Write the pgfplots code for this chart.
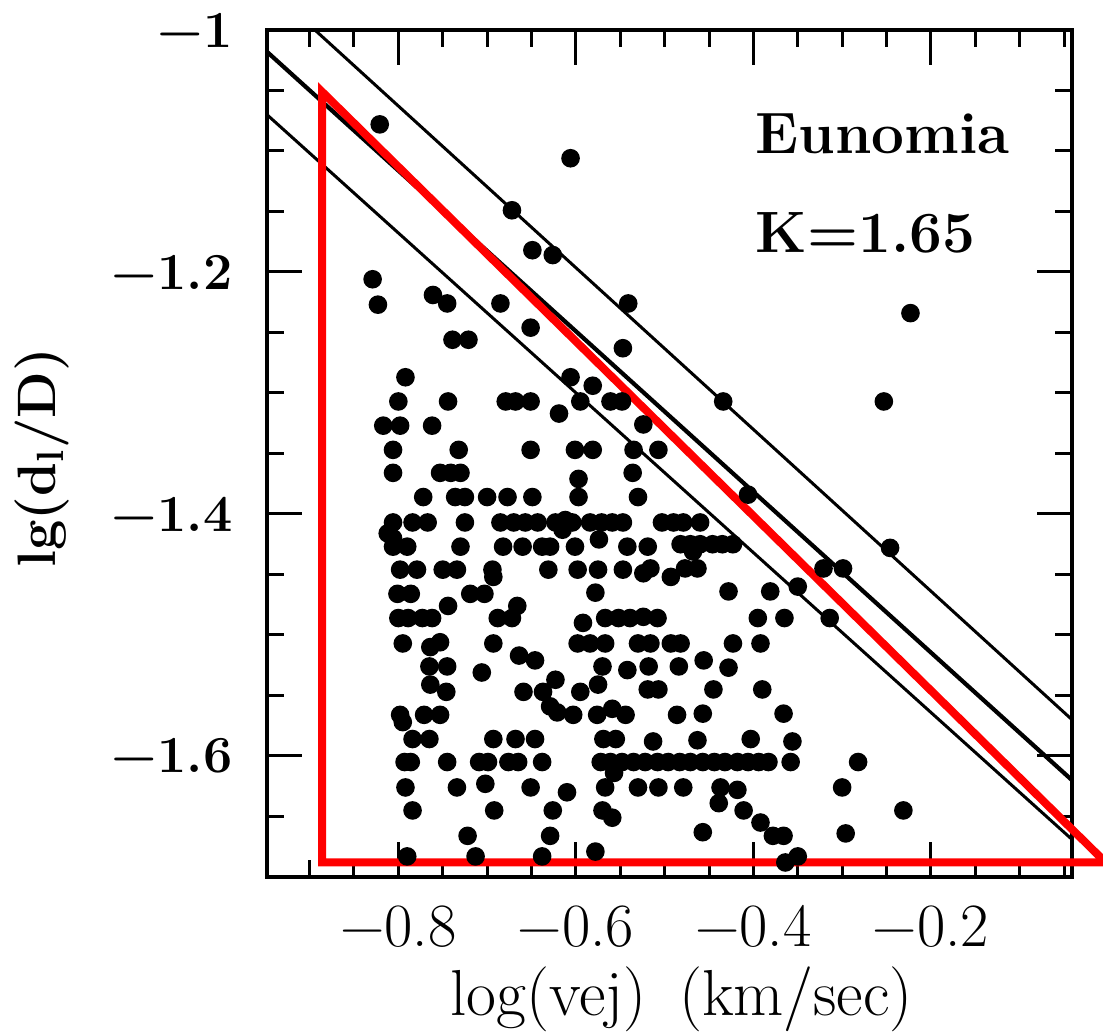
\documentclass[border=0pt]{standalone}
\usepackage{pgfplots}
\pgfplotsset{compat=1.18}
\begin{document}
\begin{tikzpicture}
\begin{axis}[name=ax, scale only axis, width=80.5mm, height=84.7mm,
 xmin=-0.948, xmax=-0.041, ymin=-1.7, ymax=-1,
 clip=false,
 axis line style={line width=0.45mm},
 tick align=inside,
 major tick length=3.5mm, minor tick length=1.7mm,
 tick style={black, line width=0.3mm},
 xtick={-0.8,-0.6,-0.4,-0.2},
 xticklabels={\textminus0.8,\textminus0.6,\textminus0.4,\textminus0.2},
 minor xtick={-0.9,-0.85,-0.75,-0.7,-0.65,-0.55,-0.5,-0.45,-0.35,-0.3,-0.25,-0.15,-0.1,-0.05},
 ytick={-1,-1.2,-1.4,-1.6},
 yticklabels={\textminus1,\textminus1.2,\textminus1.4,\textminus1.6},
 minor ytick={-1.05,-1.1,-1.15,-1.25,-1.3,-1.35,-1.45,-1.5,-1.55,-1.65},
 xticklabel style={font=\fontsize{17.5}{20}\selectfont, anchor=base, yshift=-7mm, inner sep=0pt},
 yticklabel style={font=\fontsize{14.8}{17}\selectfont\bfseries, anchor=east, xshift=-3.4mm, inner sep=0pt},
 xlabel={log(vej)\hspace{0.5em}(km/sec)},
 xlabel style={font=\fontsize{18.5}{21}\selectfont, at={(axis description cs:0.515,-0.163)}, anchor=base, inner sep=0pt},
 ylabel={lg(d\textsubscript{l}/D)},
 ylabel style={font=\fontsize{15.4}{18}\selectfont\bfseries, at={(axis description cs:-0.28,0.495)}, anchor=center, inner sep=0pt},
]
% family lines
\addplot[black, line width=0.3mm] coordinates {(-0.894,-1.000) (-0.041,-1.570)};
\addplot[black, line width=0.42mm] coordinates {(-0.948,-1.018) (-0.041,-1.620)};
\addplot[black, line width=0.3mm] coordinates {(-0.948,-1.070) (-0.041,-1.669)};
% asteroids
\addplot[only marks, mark=*, mark size=0.86mm, black] coordinates {
(-0.821,-1.078) (-0.606,-1.106) (-0.672,-1.149) (-0.649,-1.182) (-0.626,-1.186)
(-0.829,-1.206) (-0.823,-1.227) (-0.761,-1.219) (-0.745,-1.226) (-0.685,-1.226)
(-0.541,-1.226) (-0.223,-1.234) (-0.651,-1.246) (-0.739,-1.256) (-0.721,-1.256)
(-0.547,-1.263) (-0.792,-1.287) (-0.606,-1.287) (-0.581,-1.294) (-0.434,-1.307) (-0.253,-1.307)
(-0.800,-1.307) (-0.744,-1.307) (-0.679,-1.307) (-0.668,-1.307) (-0.651,-1.307)
(-0.595,-1.307) (-0.561,-1.307) (-0.548,-1.307) (-0.619,-1.317)
(-0.817,-1.327) (-0.798,-1.327) (-0.762,-1.327) (-0.524,-1.326)
(-0.806,-1.347) (-0.732,-1.347) (-0.651,-1.347) (-0.601,-1.347) (-0.581,-1.347) (-0.535,-1.347) (-0.507,-1.347)
(-0.806,-1.366) (-0.753,-1.366) (-0.741,-1.366) (-0.730,-1.366) (-0.536,-1.366) (-0.597,-1.371)
(-0.772,-1.386) (-0.736,-1.386) (-0.725,-1.386) (-0.700,-1.386) (-0.677,-1.386)
(-0.649,-1.386) (-0.597,-1.386) (-0.530,-1.386) (-0.406,-1.384)
(-0.806,-1.407) (-0.784,-1.407) (-0.767,-1.407) (-0.725,-1.407) (-0.685,-1.407)
(-0.670,-1.407) (-0.657,-1.407) (-0.643,-1.407) (-0.623,-1.407) (-0.612,-1.405)
(-0.604,-1.407) (-0.584,-1.407) (-0.571,-1.407) (-0.559,-1.407) (-0.547,-1.407)
(-0.503,-1.407) (-0.490,-1.407) (-0.479,-1.407) (-0.460,-1.407)
(-0.812,-1.416) (-0.806,-1.420) (-0.615,-1.413) (-0.574,-1.421) (-0.468,-1.431)
(-0.806,-1.427) (-0.790,-1.427) (-0.730,-1.427) (-0.682,-1.427) (-0.660,-1.427)
(-0.638,-1.427) (-0.629,-1.427) (-0.601,-1.427) (-0.542,-1.427) (-0.519,-1.427)
(-0.482,-1.425) (-0.471,-1.425) (-0.460,-1.425) (-0.446,-1.425) (-0.435,-1.425)
(-0.423,-1.425) (-0.246,-1.428)
(-0.798,-1.446) (-0.779,-1.446) (-0.750,-1.446) (-0.734,-1.446) (-0.694,-1.446)
(-0.693,-1.452) (-0.631,-1.446) (-0.598,-1.446) (-0.575,-1.446) (-0.547,-1.446)
(-0.524,-1.449) (-0.516,-1.445) (-0.493,-1.452) (-0.477,-1.445) (-0.463,-1.445)
(-0.321,-1.445) (-0.299,-1.445)
(-0.801,-1.466) (-0.786,-1.466) (-0.719,-1.466) (-0.703,-1.466) (-0.578,-1.465)
(-0.428,-1.464) (-0.381,-1.464) (-0.350,-1.460) (-0.744,-1.476) (-0.666,-1.476)
(-0.800,-1.486) (-0.789,-1.486) (-0.773,-1.486) (-0.762,-1.486) (-0.688,-1.486)
(-0.672,-1.486) (-0.592,-1.490) (-0.567,-1.486) (-0.552,-1.486) (-0.539,-1.486)
(-0.524,-1.485) (-0.508,-1.486) (-0.395,-1.486) (-0.365,-1.486) (-0.314,-1.486)
(-0.795,-1.507) (-0.764,-1.510) (-0.753,-1.506) (-0.693,-1.507) (-0.598,-1.507)
(-0.584,-1.507) (-0.567,-1.507) (-0.530,-1.507) (-0.516,-1.507) (-0.493,-1.507)
(-0.482,-1.507) (-0.423,-1.507) (-0.392,-1.507) (-0.664,-1.517) (-0.646,-1.521)
(-0.765,-1.526) (-0.745,-1.526) (-0.706,-1.531) (-0.570,-1.526) (-0.542,-1.529)
(-0.518,-1.526) (-0.484,-1.526) (-0.456,-1.521) (-0.428,-1.527)
(-0.764,-1.541) (-0.746,-1.547) (-0.659,-1.547) (-0.637,-1.547) (-0.623,-1.537)
(-0.595,-1.547) (-0.575,-1.541) (-0.519,-1.545) (-0.507,-1.545) (-0.445,-1.545) (-0.390,-1.545)
(-0.798,-1.566) (-0.795,-1.572) (-0.771,-1.566) (-0.753,-1.566) (-0.629,-1.559)
(-0.621,-1.564) (-0.603,-1.566) (-0.576,-1.566) (-0.559,-1.561) (-0.544,-1.566)
(-0.486,-1.566) (-0.457,-1.565) (-0.366,-1.565)
(-0.784,-1.586) (-0.765,-1.586) (-0.693,-1.586) (-0.668,-1.586) (-0.646,-1.586)
(-0.569,-1.586) (-0.555,-1.586) (-0.513,-1.588) (-0.463,-1.587) (-0.403,-1.586) (-0.356,-1.588)
(-0.793,-1.605) (-0.786,-1.605) (-0.745,-1.605) (-0.709,-1.605) (-0.699,-1.605)
(-0.676,-1.605) (-0.665,-1.605) (-0.638,-1.605)
(-0.572,-1.605) (-0.561,-1.605) (-0.548,-1.605) (-0.535,-1.605) (-0.522,-1.605)
(-0.508,-1.605) (-0.496,-1.605) (-0.483,-1.605) (-0.471,-1.605) (-0.457,-1.605)
(-0.444,-1.605) (-0.432,-1.605) (-0.418,-1.605) (-0.406,-1.605) (-0.394,-1.605)
(-0.383,-1.605) (-0.358,-1.605) (-0.282,-1.605)
(-0.557,-1.614) (-0.567,-1.626)
(-0.792,-1.626) (-0.734,-1.626) (-0.702,-1.623) (-0.651,-1.626) (-0.610,-1.630)
(-0.530,-1.626) (-0.507,-1.626) (-0.479,-1.626) (-0.437,-1.626) (-0.418,-1.628) (-0.300,-1.626)
(-0.784,-1.645) (-0.692,-1.645) (-0.626,-1.645) (-0.570,-1.645) (-0.559,-1.651)
(-0.439,-1.639) (-0.411,-1.645) (-0.231,-1.645)
(-0.392,-1.655) (-0.457,-1.663) (-0.378,-1.666) (-0.366,-1.666) (-0.296,-1.664)
(-0.722,-1.666) (-0.629,-1.666)
(-0.790,-1.683) (-0.713,-1.683) (-0.638,-1.683) (-0.578,-1.679) (-0.350,-1.683) (-0.364,-1.688)
};
% red overlay triangle
\addplot[red, line width=0.8mm, line join=miter] coordinates {(-0.886,-1.051) (-0.886,-1.688) (-0.003,-1.688)} -- cycle;
\node[anchor=base west, inner sep=0pt, font=\fontsize{16.6}{19}\selectfont\bfseries] at (axis cs:-0.398,-1.1017) {Eunomia};
\node[anchor=base west, inner sep=0pt, font=\fontsize{16.6}{19}\selectfont\bfseries] at (axis cs:-0.398,-1.184) {K=1.65};
\end{axis}
\pgfresetboundingbox
\path[use as bounding box] ([xshift=-26.7mm,yshift=-15.5mm]ax.south west) rectangle ([xshift=3.1mm,yshift=3.0mm]ax.north east);
\end{tikzpicture}
\end{document}
